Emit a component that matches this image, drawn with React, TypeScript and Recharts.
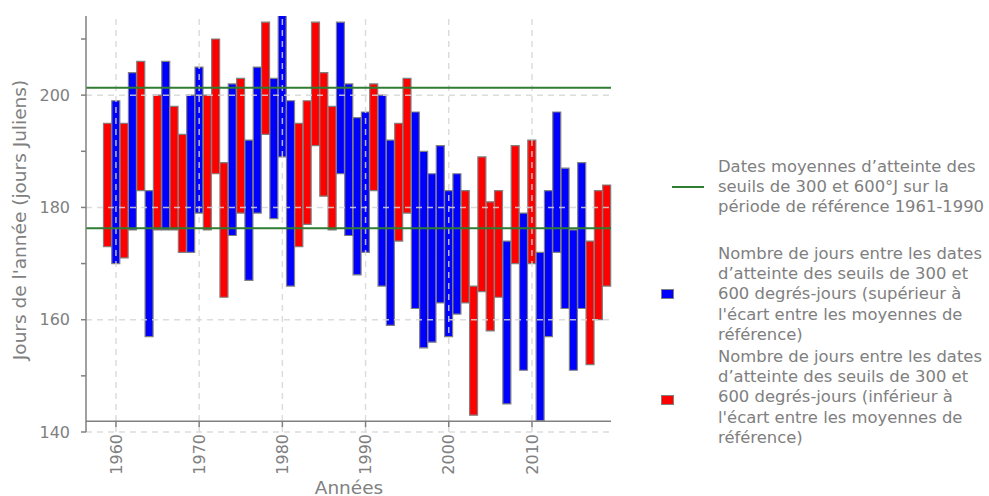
import { ComposedChart, Bar, Cell, XAxis, YAxis, ReferenceLine } from 'recharts'

const years = [
  1959, 1960, 1961, 1962, 1963, 1964, 1965, 1966, 1967, 1968, 1969, 1970, 1971, 1972, 1973, 1974,
  1975, 1976, 1977, 1978, 1979, 1980, 1981, 1982, 1983, 1984, 1985, 1986, 1987, 1988, 1989, 1990,
  1991, 1992, 1993, 1994, 1995, 1996, 1997, 1998, 1999, 2000, 2001, 2002, 2003, 2004, 2005, 2006,
  2007, 2008, 2009, 2010, 2011, 2012, 2013, 2014, 2015, 2016, 2017, 2018, 2019,
]

// date d'atteinte du seuil de 300 degrés-jours
const seuil300 = [
  173, 170, 171, 176, 183, 157, 176, 176, 176, 172, 172, 179, 176, 186, 164, 175,
  179, 167, 179, 193, 178, 189, 166, 173, 177, 191, 182, 176, 186, 175, 168, 172,
  183, 166, 159, 174, 179, 162, 155, 156, 163, 157, 161, 163, 143, 165, 158, 164,
  145, 170, 151, 170, 142, 157, 172, 162, 151, 162, 152, 160, 166,
]

// date d'atteinte du seuil de 600 degrés-jours
const seuil600 = [
  195, 199, 195, 204, 206, 183, 200, 206, 198, 193, 200, 205, 200, 210, 188, 202,
  203, 192, 205, 213, 203, 216, 199, 195, 199, 213, 204, 198, 213, 202, 196, 197,
  202, 200, 192, 195, 203, 197, 190, 186, 191, 183, 186, 183, 166, 189, 181, 183,
  174, 191, 179, 192, 172, 183, 197, 187, 176, 188, 174, 183, 184,
]

// moyennes 1961-1990
const ref300 = 176.3
const ref600 = 201.3

const yTicks = [140, 150, 160, 170, 180, 190, 200, 210]
const yMajor = [140, 160, 180, 200]
const xTicks = [1960, 1970, 1980, 1990, 2000, 2010]

const refGap = Math.round((ref600 - ref300) * 10) / 10
const data = years.map((annee, i) => ({
  annee,
  jours: [seuil300[i], seuil600[i]],
  superieur: seuil600[i] - seuil300[i] >= refGap,
}))

const grey = '#808080'
const gridColor = '#d6d6d6'
const font = 'DejaVu Sans'

function XTick(props: any) {
  const { x, y, payload } = props
  return (
    <g>
      <line x1={x} x2={x} y1={y - 12} y2={y - 7} stroke={grey} strokeWidth={1.5} />
      <text
        x={x}
        y={y}
        transform={`rotate(-90 ${x} ${y})`}
        textAnchor='end'
        dy='0.35em'
        fill={grey}
        fontSize={16}
        fontFamily={font}
      >
        {payload.value}
      </text>
    </g>
  )
}

const legendText: React.CSSProperties = {
  position: 'absolute',
  left: 718,
  fontFamily: font,
  fontSize: 16.4,
  lineHeight: '20.2px',
  color: grey,
  whiteSpace: 'nowrap',
}

const square = (fill: string, top: number): React.CSSProperties => ({
  position: 'absolute',
  left: 661,
  top,
  width: 11,
  height: 8,
  background: fill,
  border: `1px solid ${grey}`,
})

export default function App() {
  return (
    <div style={{ position: 'absolute', left: 0, top: 0, width: 989, height: 496, background: '#fff' }}>
      <ComposedChart
        width={989}
        height={496}
        data={data}
        margin={{ top: 16, right: 378, bottom: 0, left: 0 }}
      >
        <XAxis
          dataKey='annee'
          type='number'
          domain={[1956.4, 2019.5]}
          ticks={xTicks}
          interval={0}
          axisLine={false}
          tickLine={false}
          tickSize={0}
          tickMargin={2}
          height={64}
          tick={<XTick />}
        />
        <YAxis
          type='number'
          domain={[140, 214.1]}
          allowDataOverflow
          ticks={yTicks}
          interval={0}
          width={86}
          tickSize={5}
          tickMargin={11}
          tickFormatter={(v: number) => (v % 20 === 0 ? String(v) : '')}
          axisLine={{ stroke: grey, strokeWidth: 1.5 }}
          tickLine={{ stroke: grey, strokeWidth: 1.5 }}
          tick={{ fill: grey, fontSize: 16, fontFamily: font }}
        />
        <Bar dataKey='jours' barSize={8} stroke={grey} strokeWidth={1.2} isAnimationActive={false}>
          {data.map((d) => (
            <Cell key={d.annee} fill={d.superieur ? '#0000ff' : '#ff0000'} />
          ))}
        </Bar>
        {/* grille en pointillés, par-dessus les barres */}
        {yMajor.map((v) => (
          <ReferenceLine
            key={`h${v}`}
            y={v}
            stroke={gridColor}
            strokeWidth={1.5}
            strokeDasharray='6 5'
            strokeOpacity={0.85}
          />
        ))}
        {xTicks.map((v) => (
          <ReferenceLine
            key={`v${v}`}
            x={v}
            stroke={gridColor}
            strokeWidth={1.5}
            strokeDasharray='6 5'
            strokeOpacity={0.85}
          />
        ))}
        <ReferenceLine y={141.9} stroke={grey} strokeWidth={1.5} />
        <ReferenceLine y={ref600} stroke='#2e7d32' strokeWidth={2} />
        <ReferenceLine y={ref300} stroke='#2e7d32' strokeWidth={2} />
      </ComposedChart>

      <div
        style={{
          position: 'absolute',
          left: 19,
          top: 220,
          transform: 'translate(-50%, -50%) rotate(-90deg)',
          fontFamily: font,
          fontSize: 18.5,
          color: grey,
          whiteSpace: 'nowrap',
        }}
      >
        Jours de l'année (jours Juliens)
      </div>
      <div
        style={{
          position: 'absolute',
          left: 349,
          top: 487,
          transform: 'translate(-50%, -50%)',
          fontFamily: font,
          fontSize: 18.5,
          color: grey,
          whiteSpace: 'nowrap',
        }}
      >
        Années
      </div>

      <div style={{ position: 'absolute', left: 672, top: 186, width: 32, height: 2, background: '#2e7d32' }} />
      <div style={{ ...legendText, top: 157 }}>
        Dates moyennes d’atteinte des
        <br />
        seuils de 300 et 600°J sur la
        <br />
        période de référence 1961-1990
      </div>

      <div style={square('#0000ff', 289)} />
      <div style={{ ...legendText, top: 244 }}>
        Nombre de jours entre les dates
        <br />
        d’atteinte des seuils de 300 et
        <br />
        600 degrés-jours (supérieur à
        <br />
        l'écart entre les moyennes de
        <br />
        référence)
      </div>

      <div style={square('#ff0000', 395)} />
      <div style={{ ...legendText, top: 347 }}>
        Nombre de jours entre les dates
        <br />
        d’atteinte des seuils de 300 et
        <br />
        600 degrés-jours (inférieur à
        <br />
        l'écart entre les moyennes de
        <br />
        référence)
      </div>
    </div>
  )
}
